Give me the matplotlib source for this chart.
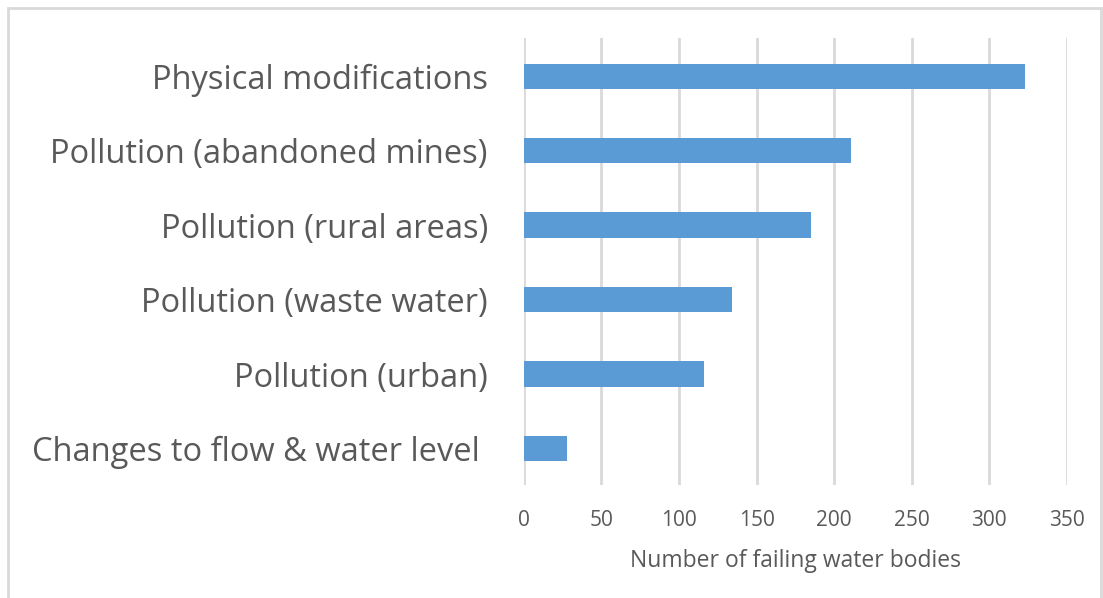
import matplotlib
matplotlib.use("Agg")
import matplotlib.pyplot as plt
from matplotlib.patches import Rectangle

# ---------------- DATA ----------------
categories = ["Changes to flow & water level ", "Pollution (urban)",
              "Pollution (waste water)", "Pollution (rural areas)",
              "Pollution (abandoned mines)", "Physical modifications"]
failing = [28, 116, 134, 185, 211, 323]
xticks = [0, 50, 100, 150, 200, 250, 300, 350]
xlabel = "Number of failing water bodies"

BAR_COLOR = "#5B9BD5"
TEXT_COLOR = "#595959"
GRID_COLOR = "#D9D9D9"

plt.rcParams["font.family"] = ["Open Sans", "DejaVu Sans"]

fig = plt.figure(figsize=(11.03, 5.98), dpi=100)
ax = fig.add_axes([0.475, 0.189, 0.492, 0.747])

ypos = range(len(categories))
ax.barh(ypos, failing, height=0.34, color=BAR_COLOR, zorder=3)

ax.set_xlim(0, 350)
ax.set_ylim(-0.49, 5.51)
ax.set_xticks(xticks)
ax.set_yticks(list(ypos))
ax.set_yticklabels(categories, fontsize=23.5, color=TEXT_COLOR)
ax.tick_params(axis="x", labelsize=15, colors=TEXT_COLOR, length=0, pad=18)
ax.tick_params(axis="y", length=0, pad=26)
ax.grid(axis="x", color=GRID_COLOR, linewidth=2, zorder=0)
for s in ax.spines.values():
    s.set_visible(False)
ax.set_xlabel(xlabel, fontsize=16.5, color=TEXT_COLOR, labelpad=13)

# outer light frame
fig.patches.append(Rectangle((8 / 1103, -0.05), 1093 / 1103, 1 - 8 / 598 + 0.05,
                             transform=fig.transFigure, fill=False,
                             edgecolor="#D9D9D9", linewidth=2))

fig.savefig("out.png", dpi=100)
